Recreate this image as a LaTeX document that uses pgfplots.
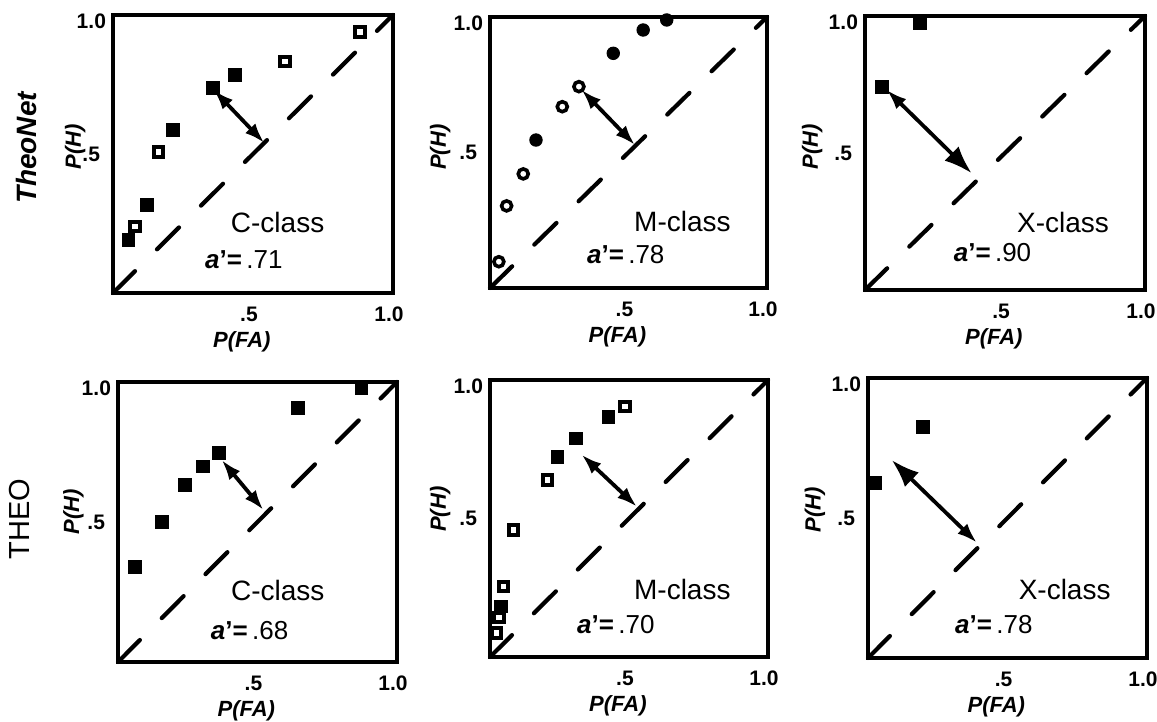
\documentclass[border=0pt]{standalone}
\usepackage{fontspec}
\setmainfont{Liberation Sans}
\usepackage{pgfplots}
\pgfplotsset{compat=1.18}
\usetikzlibrary{arrows.meta}

\tikzset{
  rocarrow/.style={line width=1.9pt,{Latex[length=10pt,width=7pt]}-{Latex[length=10pt,width=7pt]}},
  diag/.style={line width=2.1pt,line cap=round,dash pattern=on 15.5pt off 15.5pt},
  hsq/.style={only marks,mark=square*,mark size=2.4pt,mark options={fill=white,draw=black,line width=2pt}},
  fsq/.style={only marks,mark=square*,mark size=3.2pt,mark options={fill=black,draw=black,line width=0.5pt}},
  hci/.style={only marks,mark=*,mark size=2.5pt,mark options={fill=white,draw=black,line width=1.8pt}},
  fci/.style={only marks,mark=*,mark size=3.1pt,mark options={fill=black,draw=black,line width=0.5pt}},
  cls/.style={anchor=west,font=\fontsize{14}{16}\selectfont},
  apr/.style={anchor=west,font=\fontsize{13}{15}\selectfont},
}
\newcommand{\ap}[1]{{\bfseries\itshape a}{\bfseries ’=}\,#1}

\pgfplotsset{
  roc/.style 2 args={
    scale only axis, anchor=south west,
    xmin=0,xmax=1,ymin=0,ymax=1,
    axis line style={line width=2pt},
    xtick={0.5,1}, xticklabels={.5,1.0},
    ytick={0.5,1}, yticklabels={.5\kern3pt,\smash{\raisebox{-7pt}{1.0}}},
    major tick length=0pt, tick style={draw=none},
    tick label style={font=\fontsize{10.5}{12}\selectfont\bfseries},
    xticklabel style={yshift=-3.5pt,xshift=-2pt},
    xlabel={\textbf{\textit{P(FA)}}},
    ylabel={\textbf{\textit{P(H)}}},
    label style={font=\fontsize{11}{13}\selectfont},
    xlabel style={at={(axis description cs:0.46,0)},anchor=center,yshift=-24.5pt},
    ylabel style={at={(axis description cs:#1,#2)},anchor=center},
    clip=false,
  },
}

\begin{document}
\begin{tikzpicture}
\useasboundingbox (0,0) rectangle (578.5pt,361pt);

\node[rotate=90,font=\fontsize{14}{16}\selectfont\bfseries\itshape] at (13pt,287pt) {TheoNet};
\node[rotate=90,font=\fontsize{14.5}{16}\selectfont] at (10pt,101.5pt) {THEO};

% Panel 1: TheoNet C-class
\begin{axis}[roc={-0.135}{0.525},width=140pt,height=139pt,at={(56.5pt,214.5pt)}]
\addplot[diag] coordinates {(0,0) (1,1)};
\addplot[rocarrow] coordinates {(0.36,0.73) (0.54,0.54)};
\addplot[hsq] coordinates {(0.882,0.938) (0.614,0.832) (0.162,0.508) (0.079,0.239)};
\addplot[fsq] coordinates {(0.436,0.784) (0.358,0.736) (0.215,0.586) (0.120,0.317) (0.055,0.191)};
\node[cls] at (axis cs:0.396,0.255) {C-class};
\node[apr] at (axis cs:0.304,0.119) {\ap{.71}};
\end{axis}

% Panel 2: TheoNet M-class
\begin{axis}[roc={-0.18}{0.52},width=138.5pt,height=135.5pt,at={(245pt,217pt)}]
\addplot[diag] coordinates {(0,0) (1,1)};
\addplot[rocarrow] coordinates {(0.331,0.731) (0.523,0.528)};
\addplot[hci] coordinates {(0.321,0.743) (0.261,0.669) (0.120,0.421) (0.060,0.303) (0.032,0.097)};
\addplot[fci] coordinates {(0.638,0.989) (0.553,0.952) (0.445,0.866) (0.166,0.546)};
\node[cls] at (axis cs:0.495,0.244) {M-class};
\node[apr] at (axis cs:0.325,0.122) {\ap{.78}};
\end{axis}

% Panel 3: TheoNet X-class
\begin{axis}[roc={-0.189}{0.522},width=140pt,height=137pt,at={(432.5pt,216pt)}]
\addplot[diag] coordinates {(0,0) (1,1)};
\addplot[line width=1.9pt,{Latex[length=10pt,width=7pt]}-{Latex[length=14pt,width=10pt]}] coordinates {(0.078,0.730) (0.381,0.426)};
\addplot[fsq] coordinates {(0.196,0.973) (0.060,0.740)};
\node[cls] at (axis cs:0.518,0.248) {X-class};
\node[apr] at (axis cs:0.292,0.135) {\ap{.90}};
\end{axis}

% Panel 4: THEO C-class
\begin{axis}[roc={-0.16}{0.537},width=139.5pt,height=140pt,at={(59pt,30pt)}]
\addplot[diag] coordinates {(0,0) (1,1)};
\addplot[rocarrow] coordinates {(0.372,0.721) (0.521,0.543)};
\addplot[fsq] coordinates {(0.873,0.977) (0.644,0.906) (0.363,0.745) (0.304,0.698) (0.240,0.632) (0.157,0.501) (0.061,0.340)};
\node[cls] at (axis cs:0.38,0.257) {C-class};
\node[apr] at (axis cs:0.308,0.114) {\ap{.68}};
\end{axis}

% Panel 5: THEO M-class
\begin{axis}[roc={-0.179}{0.534},width=139pt,height=138.5pt,at={(245pt,32.5pt)}]
\addplot[diag] coordinates {(0,0) (1,1)};
\addplot[rocarrow] coordinates {(0.33,0.73) (0.528,0.543)};
\addplot[hsq] coordinates {(0.486,0.904) (0.207,0.639) (0.084,0.458) (0.048,0.254) (0.032,0.142) (0.024,0.086)};
\addplot[fsq] coordinates {(0.426,0.865) (0.308,0.789) (0.243,0.723) (0.040,0.182)};
\node[cls] at (axis cs:0.493,0.242) {M-class};
\node[apr] at (axis cs:0.288,0.116) {\ap{.70}};
\end{axis}

% Panel 6: THEO X-class
\begin{axis}[roc={-0.19}{0.529},width=139.5pt,height=140pt,at={(434pt,32pt)}]
\addplot[diag] coordinates {(0,0) (1,1)};
\addplot[line width=1.9pt,{Latex[length=14pt,width=10pt]}-{Latex[length=10pt,width=7pt]}] coordinates {(0.085,0.707) (0.390,0.412)};
\addplot[fsq] coordinates {(0.196,0.826) (0.025,0.624)};
\node[cls] at (axis cs:0.515,0.243) {X-class};
\node[apr] at (axis cs:0.287,0.118) {\ap{.78}};
\end{axis}
\end{tikzpicture}
\end{document}
